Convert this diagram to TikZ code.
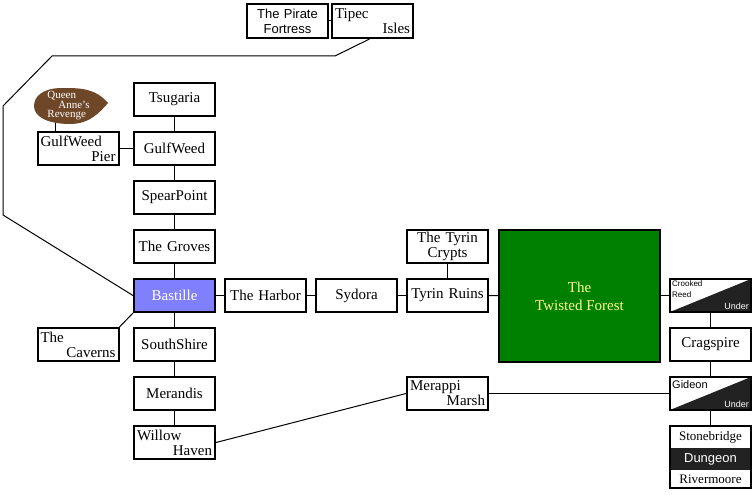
\documentclass[tikz,border=0pt]{standalone}
\usepackage{fontspec}
\setmainfont{Liberation Serif}
\setsansfont{Liberation Sans}
\definecolor{bastblue}{RGB}{128,128,255}
\definecolor{forestgreen}{RGB}{0,128,0}
\definecolor{forestlabel}{RGB}{255,255,140}
\definecolor{shipbrown}{RGB}{110,70,40}
\definecolor{underdark}{RGB}{34,34,34}
\begin{document}
\begin{tikzpicture}[x=1pt, y=-1pt,
    place/.style={rectangle, draw, line width=2pt, fill=white, text width=75pt, minimum height=33pt, inner xsep=3pt, inner ysep=0pt, align=center, font=\fontsize{15}{15}\selectfont},
    twoline/.style={place, align=left},
    under/.style={place, path picture={\fill[underdark] (path picture bounding box.south west) -- (path picture bounding box.north east) -- (path picture bounding box.south east) -- cycle;}},
    tag/.style={inner sep=0pt, font=\sffamily\fontsize{8}{11}\selectfont},
    link/.style={line width=1pt}
]
    \useasboundingbox (0,0) rectangle (755,495);

    % Sea route
    \node[place, font=\sffamily\fontsize{13}{15}\selectfont, minimum height=34pt] (pirate) at (287.5,21) {The Pirate\\Fortress};
    \node[twoline, minimum height=34pt] (tipec) at (372.5,21) {Tipec\\\hspace*{\fill}Isles};
    \fill[shipbrown] (108,103) .. controls (95,88) and (80,88) .. (62,88) .. controls (42,88) and (34,97) .. (34,106) .. controls (34,117) and (48,124) .. (70,124) .. controls (90,124) and (100,112) .. (108,103);
    \node[inner sep=0pt, text=white, align=left, font=\fontsize{11}{9.5}\selectfont] (ship) at (68.5,106) {Queen\\\hspace*{11pt}Anne's\\Revenge};
    \coordinate (shipfoot) at (55,123);

    % Main column
    \node[place] (tsugaria) at (174.5,99.5) {Tsugaria};
    \node[place] (gulfweed) at (174.5,148.5) {GulfWeed};
    \node[twoline] (pier) at (78,148.5) {GulfWeed\\\hspace*{\fill}Pier};
    \node[place] (spear) at (174.5,197.5) {SpearPoint};
    \node[place] (groves) at (174.5,246.5) {The Groves};
    \node[place, fill=bastblue, text=white] (bastille) at (174.5,295.5) {Bastille};
    \node[twoline] (caverns) at (78,344.5) {The\\\hspace*{\fill}Caverns\hspace*{6pt}};
    \node[place] (south) at (174.5,344.5) {SouthShire};
    \node[place] (merandis) at (174.5,393.5) {Merandis};
    \node[twoline] (willow) at (174.5,442.5) {Willow\\\hspace*{\fill}Haven};

    % East road
    \node[place] (harbor) at (265.5,295.5) {The Harbor};
    \node[place] (sydora) at (356.5,295.5) {Sydora};
    \node[place] (ruins) at (447.5,295.5) {Tyrin Ruins};
    \node[place] (crypts) at (447.5,246.5) {The Tyrin\\Crypts};
    \node[twoline] (merappi) at (447.5,393.5) {Merappi\\\hspace*{\fill}Marsh};
    \node[draw, line width=2pt, fill=forestgreen, minimum width=161pt, minimum height=132pt, text=forestlabel, align=center, font=\fontsize{15}{18}\selectfont] (forest) at (579.5,296) {The\\Twisted Forest};

    % Right column
    \node[under] (reed) at (710.5,295.5) {};
    \node[tag, anchor=north west, align=left] (reedname) at ([xshift=3pt, yshift=-3pt]reed.north west) {Crooked\\Reed};
    \node[tag, anchor=south east, text=white, font=\sffamily\fontsize{9}{9}\selectfont] (reedunder) at ([xshift=-3pt, yshift=3pt]reed.south east) {Under};
    \node[place] (cragspire) at (710.5,344.5) {Cragspire};
    \node[under] (gideon) at (710.5,393.5) {};
    \node[tag, anchor=north west, font=\sffamily\fontsize{11}{11}\selectfont] (gideonname) at ([xshift=3pt, yshift=-4pt]gideon.north west) {Gideon};
    \node[tag, anchor=south east, text=white, font=\sffamily\fontsize{9}{9}\selectfont] (gideonunder) at ([xshift=-3pt, yshift=3pt]gideon.south east) {Under};
    \node[place, minimum height=62pt] (stone) at (710.5,457) {};
    \node[fill=underdark, text=white, minimum width=79pt, minimum height=22pt, inner sep=0pt, font=\sffamily\fontsize{13}{13}\selectfont] (dungeon) at (710.5,459) {Dungeon};
    \node[inner sep=0pt, font=\fontsize{13}{13}\selectfont] (stonebridge) at (710.5,437) {Stonebridge};
    \node[inner sep=0pt, font=\fontsize{13}{13}\selectfont] (rivermoore) at (710.5,479.5) {Rivermoore};

    % Connectors
    \coordinate (r1) at (335,56);
    \coordinate (r2) at (52,56);
    \coordinate (r3) at (3,106);
    \coordinate (r4) at (3,215);
    \draw[link] ([xshift=-3pt]tipec.south) -- (r1) -- (r2) -- (r3) -- (r4) -- (bastille.west);
    \draw[link] (pirate) -- (tipec);
    \draw[link] (shipfoot) -- (shipfoot |- pier.north);
    \draw[link] (pier) -- (gulfweed);
    \draw[link] (tsugaria) -- (gulfweed);
    \draw[link] (gulfweed) -- (spear);
    \draw[link] (spear) -- (groves);
    \draw[link] (groves) -- (bastille);
    \draw[link] (bastille) -- (south);
    \draw[link] (south) -- (merandis);
    \draw[link] (merandis) -- (willow);
    \draw[link] (bastille.south west) -- (caverns.north east);
    \draw[link] (bastille) -- (harbor);
    \draw[link] (harbor) -- (sydora);
    \draw[link] (sydora) -- (ruins);
    \draw[link] (crypts) -- (ruins);
    \draw[link] (ruins) -- (forest);
    \draw[link] (forest.east |- reed.west) -- (reed.west);
    \draw[link] (reed) -- (cragspire);
    \draw[link] (cragspire) -- (gideon);
    \draw[link] (gideon) -- (stone);
    \draw[link] (willow.east) -- (merappi.west);
    \draw[link] (merappi) -- (gideon);
\end{tikzpicture}
\end{document}
